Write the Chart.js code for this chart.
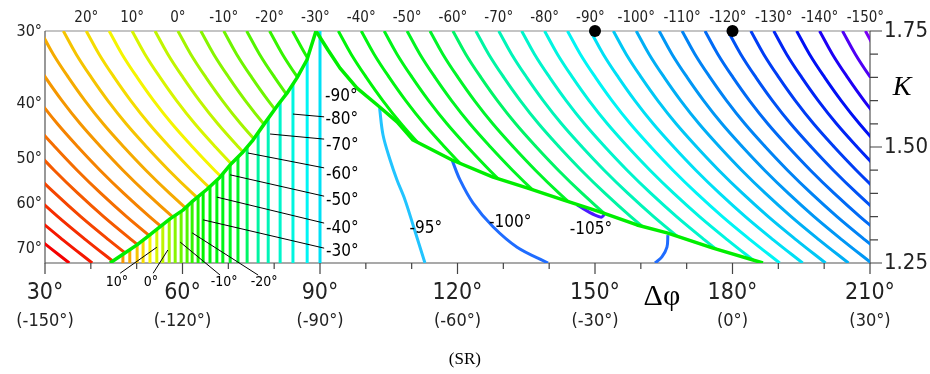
<!DOCTYPE html>
<html>
<head>
<meta charset="utf-8">
<title>SR</title>
<script src="https://cdn.jsdelivr.net/npm/chart.js@4.4.1/dist/chart.umd.min.js"></script>
<style>
  body { margin: 0; background: #fff; }
  canvas { display: block; }
</style>
</head>
<body>
<canvas id="srChart" width="930" height="374"></canvas>
<script>
// contour levels (deg) and the Δφ where each one meets the top edge K = 1.75
const contourLevels = [70, 65, 60, 55, 50, 45, 40, 35, 30, 25, 20, 15, 10, 5, 0, -5, -10, -15, -20, -25, -30,
  -35, -40, -45, -50, -55, -60, -65, -70, -75, -80, -85, -90, -95, -100, -105, -110, -115, -120, -125, -130,
  -135, -140, -145, -150];
const contourTop = [-11, -6, -1, 4, 9, 14, 19, 24, 29, 34, 39, 44, 49, 54, 59, 64, 69, 74, 79, 84, 89,
  94, 99, 104, 109, 114, 119, 124, 129, 134, 139, 144, 149, 154, 159, 164, 169, 174, 179, 184, 189,
  194, 199, 204, 209];

// every contour has the same shape: Δφ drift from its top point as K drops
const arcK = [1.75, 1.70, 1.65, 1.60, 1.55, 1.50, 1.45, 1.40, 1.35, 1.30, 1.25];
const arcShift = [0, 2.8, 6.1, 9.7, 13.7, 18.2, 23.0, 28.2, 33.8, 39.9, 46.3];

// vertical contours under the left boundary
const vertLevels = [35, 30, 25, 20, 15, 10, 5, 0, -5, -10, -15, -20, -25, -30, -35, -40, -45, -50, -55,
  -60, -65, -70, -75, -80, -85, -90];
const vertPhi = [47.0, 48.5, 50.1, 51.4, 52.9, 54.4, 55.7, 57.1, 58.4, 59.7, 61.0, 62.1, 63.4, 64.5,
  66.0, 67.5, 68.8, 70.4, 72.1, 74.1, 76.5, 78.7, 81.3, 84.1, 87.2, 90.0];

// green boundaries
const edgeLeftPhi = [44.18, 47.02, 50.07, 52.25, 57.27, 60.11, 62.29, 65.35, 68.18, 70.36, 72.98, 75.38,
  78.0, 80.84, 82.80, 84.98, 87.16, 89.13];
const edgeLeftK = [1.250, 1.269, 1.289, 1.306, 1.345, 1.364, 1.384, 1.409, 1.435, 1.461, 1.487, 1.515,
  1.552, 1.591, 1.616, 1.649, 1.688, 1.750];
const edgeRightPhi = [89.13, 91.75, 94.37, 98.08, 102.44, 106.8, 110.29, 118.8, 127.75, 135.16, 143.02,
  151.09, 159.16, 165.71, 175.75, 186.65];
const edgeRightK = [1.750, 1.709, 1.670, 1.627, 1.591, 1.554, 1.515, 1.472, 1.435, 1.412, 1.386, 1.360,
  1.332, 1.315, 1.282, 1.250];

// isolated contours in the open region
const c95Phi = [103.0, 103.75, 105.3, 106.8, 108.55, 110.3, 112.9];
const c95K = [1.584, 1.526, 1.472, 1.429, 1.386, 1.332, 1.25];
const c100Phi = [118.8, 120.55, 123.4, 127.75, 133.0, 139.75];
const c100K = [1.472, 1.429, 1.379, 1.328, 1.284, 1.25];
const c105Phi = [146.1, 150.0, 151.5, 152.2];
const c105K = [1.375, 1.353, 1.349, 1.358];
const c100bPhi = [165.9, 165.7, 164.6, 163.1];
const c100bK = [1.310, 1.284, 1.263, 1.25];

// marked points on the top edge
const dotPhi = [150, 180];

// axis labels
const bottomTicks = [30, 60, 90, 120, 150, 180, 210];
const bottomText = ['30°', '60°', '90°', '120°', '150°', '180°', '210°'];
const bottomAlt = ['(-150°)', '(-120°)', '(-90°)', '(-60°)', '(-30°)', '(0°)', '(30°)'];
const topTickPhi = [39, 49, 59, 69, 79, 89, 99, 109, 119, 129, 139, 149, 159, 169, 179, 189, 199, 209];
const topTickText = ['20°', '10°', '0°', '-10°', '-20°', '-30°', '-40°', '-50°', '-60°', '-70°', '-80°',
  '-90°', '-100°', '-110°', '-120°', '-130°', '-140°', '-150°'];
const leftTickK = [1.75, 1.595, 1.476, 1.379, 1.282];
const leftTickText = ['30°', '40°', '50°', '60°', '70°'];
const rightTickK = [1.25, 1.50, 1.75];
const rightTickText = ['1.25', '1.50', '1.75'];

// labels of the vertical contours (leader from -> to, text at)
const vertNotes = [
  { text: '-90°', at: [91.1, 1.608] },
  { text: '-80°', from: [84.1, 1.571], to: [90.9, 1.565], at: [91.2, 1.559] },
  { text: '-70°', from: [79.1, 1.528], to: [90.9, 1.517], at: [91.3, 1.504] },
  { text: '-60°', from: [74.3, 1.487], to: [90.9, 1.455], at: [91.3, 1.440] },
  { text: '-50°', from: [70.4, 1.440], to: [90.9, 1.394], at: [91.3, 1.384] },
  { text: '-40°', from: [67.5, 1.392], to: [90.9, 1.336], at: [91.3, 1.325] },
  { text: '-30°', from: [64.5, 1.343], to: [90.9, 1.282], at: [91.3, 1.274] }
];
const footNotes = [
  { text: '10°', from: [54.4, 1.284], to: [46.4, 1.228], at: [45.7, 1.209] },
  { text: '0°', from: [56.8, 1.278], to: [53.6, 1.228], at: [53.1, 1.209] },
  { text: '-10°', from: [59.5, 1.295], to: [68.2, 1.224], at: [69.1, 1.209] },
  { text: '-20°', from: [62.1, 1.315], to: [76.5, 1.224], at: [77.8, 1.209] }
];
const curveNotes = [
  { text: '-95°', at: [113.1, 1.325] },
  { text: '-100°', at: [131.5, 1.338] },
  { text: '-105°', at: [149.1, 1.321] }
];

const SANS = '"Liberation Sans Narrow", "DejaVu Sans Condensed", "Liberation Sans", sans-serif';
const SERIF = '"Liberation Serif", "DejaVu Serif", serif';
const EDGE = '#00ee00';

// hue per level: red at the top of the range through yellow, green, cyan to violet
const hueStops = [[70, 0], [50, 22], [30, 42], [15, 60], [-30, 120], [-55, 130], [-65, 160], [-90, 185],
  [-120, 220], [-135, 236], [-150, 270]];
function levelColor(v) {
  for (let i = 1; i < hueStops.length; i++) {
    const [a, ha] = hueStops[i - 1];
    const [b, hb] = hueStops[i];
    if (v >= b) {
      const h = ha + (hb - ha) * (a - v) / (a - b);
      return 'hsl(' + h.toFixed(0) + ',100%,48%)';
    }
  }
  return 'hsl(270,100%,48%)';
}

const pts = (phi, k) => phi.map((p, i) => ({ x: p, y: k[i] }));
const pairs = (phi, k) => phi.map((p, i) => [p, k[i]]);

// clip polygons (Δφ, K)
const leftEdge = pairs(edgeLeftPhi, edgeLeftK);            // bottom -> top
const rightEdge = pairs(edgeRightPhi, edgeRightK);         // top -> bottom
const regionLeft = [[25, 1.76], [89.13, 1.76]].concat(leftEdge.slice().reverse(), [[44.18, 1.24], [25, 1.24]]);
const regionRight = [[89.13, 1.76], [215, 1.76], [215, 1.24], [186.65, 1.24]].concat(rightEdge.slice().reverse());
const regionUnder = leftEdge.concat([[90.6, 1.75], [90.6, 1.24], [44.18, 1.24]]);

const datasets = [];

datasets.push({
  data: dotPhi.map(p => ({ x: p, y: 1.75 })),
  showLine: false, pointRadius: 6, pointBackgroundColor: '#000', pointBorderWidth: 0,
  clip: false, order: 0
});

[[edgeLeftPhi, edgeLeftK], [edgeRightPhi, edgeRightK]].forEach(([p, k]) => datasets.push({
  data: pts(p, k), showLine: true, borderColor: EDGE, borderWidth: 3.5, pointRadius: 0,
  tension: 0, borderJoinStyle: 'round', clip: 0, order: 1
}));

[[c95Phi, c95K, '#22c4ff'], [c100Phi, c100K, '#1f6cff'], [c105Phi, c105K, '#4a1cff'],
 [c100bPhi, c100bK, '#1f6cff']].forEach(([p, k, col]) => datasets.push({
  data: pts(p, k), showLine: true, borderColor: col, borderWidth: 3, pointRadius: 0,
  tension: 0.35, clip: 0, order: 2
}));

vertLevels.forEach((lev, i) => datasets.push({
  data: [{ x: vertPhi[i], y: 1.76 }, { x: vertPhi[i], y: 1.24 }],
  showLine: true, borderColor: levelColor(lev), borderWidth: 3, pointRadius: 0,
  region: [regionUnder], clip: 0, order: 3
}));

contourLevels.forEach((lev, i) => datasets.push({
  data: arcK.map((k, j) => ({ x: contourTop[i] + arcShift[j], y: k })),
  showLine: true, borderColor: levelColor(lev), borderWidth: 3, pointRadius: 0,
  tension: 0.4, region: [regionLeft, regionRight], clip: 0, order: 4
}));

// limit a dataset to its own part of the diagram
const regionClip = {
  id: 'regionClip',
  beforeDatasetDraw(chart, args) {
    const polys = chart.data.datasets[args.index].region;
    if (!polys) return;
    const { ctx, scales: { x, y } } = chart;
    ctx.save();
    ctx.beginPath();
    polys.forEach(poly => {
      poly.forEach((p, i) => {
        const px = x.getPixelForValue(p[0]), py = y.getPixelForValue(p[1]);
        if (i === 0) ctx.moveTo(px, py); else ctx.lineTo(px, py);
      });
      ctx.closePath();
    });
    ctx.clip();
  },
  afterDatasetDraw(chart, args) {
    if (chart.data.datasets[args.index].region) chart.ctx.restore();
  }
};

function label(ctx, str, x, y, font, align, base) {
  ctx.font = font;
  ctx.textAlign = align || 'center';
  ctx.textBaseline = base || 'middle';
  ctx.fillText(str, x, y);
}

// frame, ticks and every text around the plot
const frame = {
  id: 'frame',
  beforeDatasetsDraw(chart) {
    const { ctx, chartArea: a } = chart;
    ctx.save();
    ctx.lineWidth = 1.2;
    ctx.strokeStyle = '#8a8a8a';
    ctx.beginPath(); ctx.moveTo(a.left, a.top); ctx.lineTo(a.right, a.top); ctx.stroke();
    ctx.strokeStyle = '#555';
    ctx.beginPath();
    ctx.moveTo(a.left, a.top); ctx.lineTo(a.left, a.bottom); ctx.lineTo(a.right, a.bottom); ctx.lineTo(a.right, a.top);
    ctx.stroke();
    ctx.restore();
  },
  afterDatasetsDraw(chart) {
    const { ctx, chartArea: a, scales: { x, y } } = chart;
    const X = v => x.getPixelForValue(v), Y = v => y.getPixelForValue(v);
    ctx.save();
    ctx.strokeStyle = '#444';
    ctx.lineWidth = 1.2;
    ctx.beginPath();
    for (let v = 30; v <= 210; v += 10) {
      const len = v % 30 === 0 ? 11 : 6;
      ctx.moveTo(X(v), a.bottom); ctx.lineTo(X(v), a.bottom + len);
    }
    for (let k = 125; k <= 175; k += 5) {
      const len = k % 25 === 0 ? 12 : 8;
      ctx.moveTo(a.right, Y(k / 100)); ctx.lineTo(a.right + len, Y(k / 100));
    }
    ctx.stroke();

    ctx.fillStyle = '#222';
    bottomTicks.forEach((v, i) => {
      label(ctx, bottomText[i], X(v), a.bottom + 30, '23px ' + SANS);
      label(ctx, bottomAlt[i], X(v), a.bottom + 58, '18px ' + SANS);
    });
    topTickPhi.forEach((v, i) => label(ctx, topTickText[i], X(v), a.top - 13, '15px ' + SANS));
    leftTickK.forEach((k, i) => label(ctx, leftTickText[i], a.left - 3, Y(k) + 1, '16px ' + SANS, 'right'));
    rightTickK.forEach((k, i) => label(ctx, rightTickText[i], a.right + 14, Y(k), '22px ' + SANS, 'left'));

    // leaders and labels of the contours inside the plot
    ctx.strokeStyle = '#000';
    ctx.lineWidth = 1;
    vertNotes.concat(footNotes).forEach(n => {
      if (!n.from) return;
      ctx.beginPath();
      ctx.moveTo(X(n.from[0]), Y(n.from[1]));
      ctx.lineTo(X(n.to[0]), Y(n.to[1]));
      ctx.stroke();
    });
    ctx.fillStyle = '#000';
    vertNotes.forEach(n => label(ctx, n.text, X(n.at[0]), Y(n.at[1]), '17px ' + SANS, 'left'));
    footNotes.forEach(n => label(ctx, n.text, X(n.at[0]), Y(n.at[1]), '14px ' + SANS));
    curveNotes.forEach(n => label(ctx, n.text, X(n.at[0]), Y(n.at[1]), '17px ' + SANS));

    // axis titles
    label(ctx, 'Δφ', X(164.6), a.bottom + 34, '30px ' + SERIF);
    label(ctx, 'K', a.right + 32, Y(1.627), 'italic 28px ' + SERIF);
    label(ctx, '(SR)', X(121.6), a.bottom + 97, '17px ' + SERIF);
    ctx.restore();
  }
};

new Chart(document.getElementById('srChart'), {
  type: 'scatter',
  data: { datasets },
  options: {
    responsive: false,
    animation: false,
    layout: { padding: { left: 45, top: 31, right: 60, bottom: 111 } },
    scales: {
      x: { type: 'linear', min: 30, max: 210, display: false },
      y: { type: 'linear', min: 1.25, max: 1.75, display: false }
    },
    plugins: { legend: { display: false }, tooltip: { enabled: false } }
  },
  plugins: [regionClip, frame]
});
</script>
</body>
</html>
